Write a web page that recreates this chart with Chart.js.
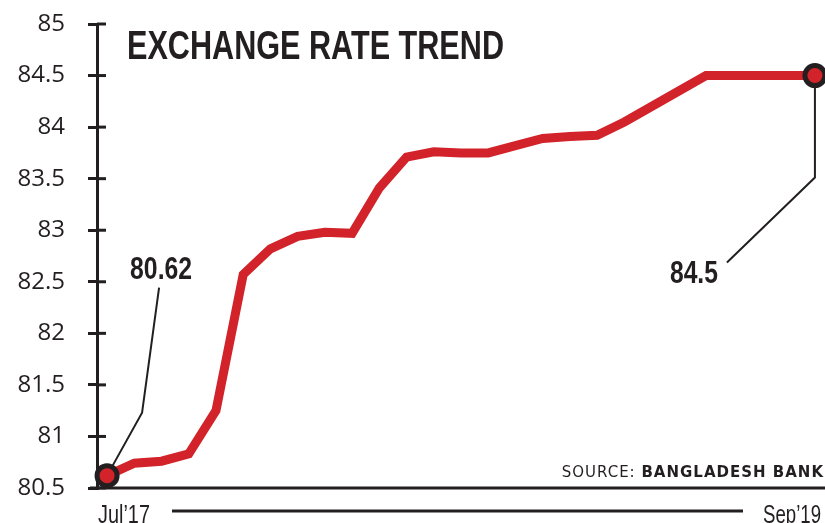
<!DOCTYPE html>
<html>
<head>
<meta charset="utf-8">
<script src="https://cdn.jsdelivr.net/npm/chart.js@4.4.1/dist/chart.umd.min.js"></script>
<style>
  html, body { margin: 0; padding: 0; background: #fff; }
  #wrap { width: 825px; height: 523px; position: relative; }
</style>
</head>
<body>
<div id="wrap"><canvas id="chart1"></canvas></div>
<script>
// ****************data*******************
var months = ["Jul’17", "Aug’17", "Sep’17", "Oct’17", "Nov’17", "Dec’17",
  "Jan’18", "Feb’18", "Mar’18", "Apr’18", "May’18", "Jun’18", "Jul’18",
  "Aug’18", "Sep’18", "Oct’18", "Nov’18", "Dec’18", "Jan’19", "Feb’19",
  "Mar’19", "Apr’19", "May’19", "Jun’19", "Jul’19", "Aug’19", "Sep’19"];
var rates = [80.62, 80.74, 80.76, 80.83, 81.25, 82.57, 82.82, 82.94, 82.98, 82.97,
  83.41, 83.71, 83.76, 83.75, 83.75, 83.82, 83.89, 83.91, 83.92, 84.05,
  84.2, 84.35, 84.5, 84.5, 84.5, 84.5, 84.5];
var yTicks = [80.5, 81, 81.5, 82, 82.5, 83, 83.5, 84, 84.5, 85];

var title = "EXCHANGE RATE TREND";
var source = ["SOURCE: ", "BANGLADESH BANK"];

var ink = '#231f20';
var red = '#d2232a';
var last = rates.length - 1;

// ****************extras drawn on the canvas*******************
var extras = {
  id: 'extras',
  beforeDatasetsDraw: function (chart) {
    var ctx = chart.ctx;
    var area = chart.chartArea;
    var pts = chart.getDatasetMeta(0).data;
    var p0 = pts[0], p1 = pts[last];
    ctx.save();
    // inner half of the y tick marks
    var ys = chart.scales.y;
    ctx.strokeStyle = ink;
    ctx.lineWidth = 3;
    yTicks.forEach(function (t) {
      var y = ys.getPixelForValue(t);
      ctx.beginPath();
      ctx.moveTo(area.left, y);
      ctx.lineTo(area.left + 9, y);
      ctx.stroke();
    });
    // bottom axis line
    ctx.beginPath();
    ctx.moveTo(area.left - 7, area.bottom);
    ctx.lineTo(chart.width, area.bottom);
    ctx.stroke();

    // leader lines
    ctx.lineWidth = 2;
    ctx.beginPath();
    ctx.moveTo(p0.x, p0.y);
    ctx.lineTo(p0.x + 35, p0.y - 63);
    ctx.lineTo(p0.x + 52, p0.y - 188);
    ctx.stroke();
    ctx.beginPath();
    ctx.moveTo(p1.x, p1.y);
    ctx.lineTo(p1.x, p1.y + 102);
    ctx.lineTo(p1.x - 88, p1.y + 187);
    ctx.stroke();
    ctx.restore();
  },
  afterDraw: function (chart) {
    var ctx = chart.ctx;
    var pts = chart.getDatasetMeta(0).data;
    var p0 = pts[0], p1 = pts[last];
    ctx.save();
    ctx.fillStyle = ink;
    ctx.textBaseline = 'alphabetic';

    // title
    ctx.textAlign = 'left';
    ctx.font = "bold 40px 'Liberation Sans', sans-serif";
    ctx.fillText(title, 127, 59, 377);

    // value labels
    ctx.font = "bold 31px 'Liberation Sans', sans-serif";
    ctx.fillText(String(rates[0]), p0.x + 23, p0.y - 197, 62);
    ctx.textAlign = 'right';
    ctx.fillText(String(rates[last]), p1.x - 97, p1.y + 207, 48);

    // first / last month
    ctx.font = "25px 'Liberation Sans Narrow', 'Liberation Sans', sans-serif";
    ctx.textAlign = 'left';
    ctx.fillText(months[0], 98, 523, 52);
    ctx.textAlign = 'right';
    ctx.fillText(months[last], 821, 523, 58);
    ctx.strokeStyle = ink;
    ctx.lineWidth = 3;
    ctx.beginPath();
    ctx.moveTo(172, 511);
    ctx.lineTo(743, 511);
    ctx.stroke();

    // source
    ctx.letterSpacing = '1px';
    ctx.font = "bold 15px 'DejaVu Sans', sans-serif";
    ctx.textAlign = 'right';
    var right = 824;
    ctx.fillText(source[1], right, 477);
    var w = ctx.measureText(source[1]).width;
    ctx.font = "15px 'DejaVu Sans', sans-serif";
    ctx.fillText(source[0], right - w, 477);
    ctx.restore();
  }
};

var ctx = document.getElementById('chart1').getContext('2d');
var chart = new Chart(ctx, {
  type: 'line',
  data: {
    labels: months,
    datasets: [{
      label: 'Exchange rate',
      data: rates.map(function (v, i) { return { x: i, y: v }; }),
      borderColor: red,
      borderWidth: 9,
      borderJoinStyle: 'miter',
      tension: 0,
      clip: false,
      pointRadius: function (c) { return (c.dataIndex === 0 || c.dataIndex === last) ? 10 : 0; },
      pointHoverRadius: 0,
      pointBackgroundColor: red,
      pointBorderColor: ink,
      pointBorderWidth: 5
    }]
  },
  options: {
    responsive: true,
    maintainAspectRatio: false,
    animation: false,
    layout: { autoPadding: false, padding: { top: 24, bottom: 35, left: 0, right: 0 } },
    plugins: { legend: { display: false }, tooltip: { enabled: false } },
    scales: {
      x: {
        type: 'linear',
        min: -0.37,
        max: 26.37,
        display: false
      },
      y: {
        min: 80.5,
        max: 85,
        afterFit: function (s) {
          s.width = 97;
          s.paddingTop = 0;
          s.paddingBottom = 0;
          s.paddingLeft = 0;
          s.paddingRight = 0;
        },
        afterBuildTicks: function (s) {
          s.ticks = yTicks.map(function (t) { return { value: t }; });
        },
        border: { display: true, color: ink, width: 3 },
        grid: { drawOnChartArea: false, tickLength: 9, lineWidth: 3, color: ink },
        ticks: {
          padding: 23,
          color: ink,
          font: { family: "'Open Sans', sans-serif", size: 24 },
          callback: function (v) { return String(v); }
        }
      }
    }
  },
  plugins: [extras]
});
</script>
</body>
</html>
